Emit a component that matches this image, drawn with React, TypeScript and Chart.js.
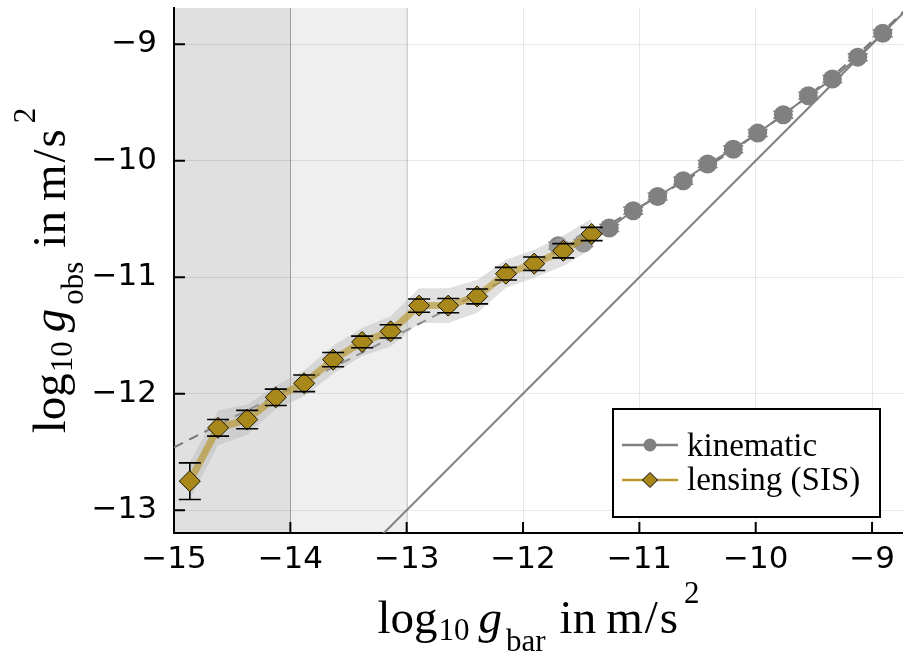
import React, { useEffect, useRef } from 'react';
import { Chart, registerables } from 'chart.js';

Chart.register(...registerables);

// ---------- data ----------
const LENS_X = [-14.864, -14.621, -14.371, -14.125, -13.881, -13.632, -13.383, -13.138, -12.893, -12.643, -12.394, -12.147, -11.904, -11.654, -11.41];
const LENS_Y = [-12.751, -12.293, -12.222, -12.031, -11.911, -11.708, -11.556, -11.465, -11.244, -11.244, -11.165, -10.97, -10.884, -10.773, -10.629];
const LENS_ERR = [0.157, 0.071, 0.079, 0.07, 0.071, 0.061, 0.05, 0.057, 0.057, 0.061, 0.064, 0.054, 0.058, 0.061, 0.057];
const LENS_BAND = [0.16, 0.15, 0.13, 0.1, 0.11, 0.12, 0.12, 0.13, 0.15, 0.15, 0.14, 0.12, 0.12, 0.13, 0.13];

const KIN_X = [-11.697, -11.482, -11.259, -11.053, -10.843, -10.623, -10.413, -10.193, -9.983, -9.763, -9.548, -9.341, -9.123, -8.908];
const KIN_Y = [-10.73, -10.707, -10.578, -10.43, -10.307, -10.172, -10.029, -9.901, -9.763, -9.606, -9.443, -9.298, -9.111, -8.906];
const KIN_ERR = [0.03, 0.03, 0.03, 0.03, 0.03, 0.03, 0.03, 0.03, 0.03, 0.03, 0.03, 0.03, 0.03, 0.03];

const RAR_X = [-15, -14.5, -14, -13.5, -13, -12.5, -12, -11.5, -11, -10.5, -10, -9.5, -9, -8.7];
const RAR_Y = [-12.46, -12.209, -11.958, -11.707, -11.454, -11.199, -10.941, -10.676, -10.399, -10.104, -9.777, -9.405, -8.975, -8.693];

const ONE_X = [-13.4, -8.6];
const ONE_Y = [-13.4, -8.6];

const X_TICKS = [-15, -14, -13, -12, -11, -10, -9];
const Y_TICKS = [-13, -12, -11, -10, -9];
const X_MIN = -15;
const X_MAX = -8.734;
const Y_MIN = -13.196;
const Y_MAX = -8.689;

const SPAN_A = [-15, -14];
const SPAN_B = [-14, -13];

const LEGEND_LABELS = ['kinematic', 'lensing (SIS)'];

// ---------- styles ----------
const GRAY = '#808080';
const GOLD = 'rgb(168,136,26)';
const GOLD_LINE = 'rgba(180,145,30,0.6)';
const SERIF = "'Liberation Serif', 'DejaVu Serif', serif";
const SANS = "'DejaVu Sans', sans-serif";

const fmt = (v: number) => (v < 0 ? '\u2212' : '') + String(Math.abs(v));
const pts = (xs: number[], ys: number[]) => xs.map((x, i) => ({ x, y: ys[i] }));

type Seg = { t: string; f: string; dy: number; gap: number };

function drawSegs(ctx: CanvasRenderingContext2D, segs: Seg[], cx: number, baseY: number) {
  let total = 0;
  const widths = segs.map((s) => {
    ctx.font = s.f;
    const w = ctx.measureText(s.t).width;
    total += s.gap + w;
    return w;
  });
  let x = cx - total / 2;
  ctx.textBaseline = 'alphabetic';
  ctx.textAlign = 'left';
  segs.forEach((s, i) => {
    x += s.gap;
    ctx.font = s.f;
    ctx.fillText(s.t, x, baseY + s.dy);
    x += widths[i];
  });
}

function titleSegs(sub: string): Seg[] {
  const big = `47px ${SERIF}`;
  const small = `31px ${SERIF}`;
  return [
    { t: 'log', f: big, dy: 0, gap: 0 },
    { t: '10', f: small, dy: 7, gap: 1 },
    { t: 'g', f: `italic ${big}`, dy: 0, gap: 9 },
    { t: sub, f: small, dy: 18, gap: 4 },
    { t: 'in', f: big, dy: 0, gap: 14 },
    { t: 'm', f: big, dy: 0, gap: 10 },
    { t: '/', f: big, dy: 0, gap: 2 },
    { t: 's', f: big, dy: 0, gap: 2 },
    { t: '2', f: small, dy: -30, gap: 6 },
  ];
}

const bgPlugin = {
  id: 'bgSpans',
  beforeDraw(chart: any) {
    const { ctx, chartArea } = chart;
    const x = chart.scales.x;
    ctx.save();
    ctx.fillStyle = '#ffffff';
    ctx.fillRect(0, 0, chart.width, chart.height);
    const a0 = x.getPixelForValue(SPAN_A[0]);
    const a1 = x.getPixelForValue(SPAN_A[1]);
    const b1 = x.getPixelForValue(SPAN_B[1]);
    ctx.fillStyle = '#e0e0e0';
    ctx.fillRect(a0, chartArea.top, a1 - a0, chartArea.bottom - chartArea.top);
    ctx.fillStyle = '#efefef';
    ctx.fillRect(a1, chartArea.top, b1 - a1, chartArea.bottom - chartArea.top);
    ctx.lineWidth = 1;
    ctx.strokeStyle = '#ababab';
    ctx.beginPath();
    ctx.moveTo(Math.round(a1) + 0.5, chartArea.top);
    ctx.lineTo(Math.round(a1) + 0.5, chartArea.bottom);
    ctx.stroke();
    ctx.strokeStyle = '#d2d2d2';
    ctx.beginPath();
    ctx.moveTo(Math.round(b1) + 0.5, chartArea.top);
    ctx.lineTo(Math.round(b1) + 0.5, chartArea.bottom);
    ctx.stroke();
    ctx.restore();
  },
};

function drawErr(chart: any, xs: number[], ys: number[], es: number[], color: string, half: number, lw: number, stems: boolean, caps: boolean) {
  const { ctx } = chart;
  const x = chart.scales.x;
  const y = chart.scales.y;
  ctx.save();
  ctx.strokeStyle = color;
  ctx.lineWidth = lw;
  xs.forEach((xv, i) => {
    const px = x.getPixelForValue(xv);
    const pt = y.getPixelForValue(ys[i] + es[i]);
    const pb = y.getPixelForValue(ys[i] - es[i]);
    ctx.beginPath();
    if (stems) {
      ctx.moveTo(px, pt);
      ctx.lineTo(px, pb);
    }
    if (caps) {
      ctx.moveTo(px - half, pt);
      ctx.lineTo(px + half, pt);
      ctx.moveTo(px - half, pb);
      ctx.lineTo(px + half, pb);
    }
    ctx.stroke();
  });
  ctx.restore();
}

const errPlugin = {
  id: 'errBars',
  beforeDatasetDraw(chart: any, args: any) {
    const ds = chart.data.datasets[args.index];
    if (ds.errKey === 'kin') drawErr(chart, KIN_X, KIN_Y, KIN_ERR, GRAY, 10, 1.5, true, true);
    if (ds.errKey === 'lens') drawErr(chart, LENS_X, LENS_Y, LENS_ERR, '#000', 11, 1.6, true, false);
  },
  afterDatasetDraw(chart: any, args: any) {
    const ds = chart.data.datasets[args.index];
    if (ds.errKey === 'lens') drawErr(chart, LENS_X, LENS_Y, LENS_ERR, '#000', 11, 1.6, false, true);
  },
};

const decoPlugin = {
  id: 'deco',
  afterDraw(chart: any) {
    const { ctx, chartArea } = chart;
    const x = chart.scales.x;
    const y = chart.scales.y;
    ctx.save();
    // inward ticks
    ctx.strokeStyle = '#000';
    ctx.lineWidth = 2;
    ctx.beginPath();
    X_TICKS.forEach((v) => {
      const px = x.getPixelForValue(v);
      ctx.moveTo(px, chartArea.bottom);
      ctx.lineTo(px, chartArea.bottom - 11);
    });
    Y_TICKS.forEach((v) => {
      const py = y.getPixelForValue(v);
      ctx.moveTo(chartArea.left, py);
      ctx.lineTo(chartArea.left + 11, py);
    });
    ctx.stroke();

    // legend
    const lx = 613, ly = 409, lw = 267, lh = 108;
    ctx.fillStyle = '#fff';
    ctx.fillRect(lx, ly, lw, lh);
    ctx.strokeStyle = '#000';
    ctx.lineWidth = 2;
    ctx.strokeRect(lx, ly, lw, lh);
    const rows = [445, 480];
    ctx.lineWidth = 2.5;
    ctx.strokeStyle = GRAY;
    ctx.beginPath();
    ctx.moveTo(622, rows[0]);
    ctx.lineTo(678, rows[0]);
    ctx.stroke();
    ctx.fillStyle = GRAY;
    ctx.beginPath();
    ctx.arc(650, rows[0], 6.5, 0, Math.PI * 2);
    ctx.fill();
    ctx.strokeStyle = 'rgb(186,152,48)';
    ctx.beginPath();
    ctx.moveTo(622, rows[1]);
    ctx.lineTo(678, rows[1]);
    ctx.stroke();
    ctx.fillStyle = GOLD;
    ctx.strokeStyle = '#000';
    ctx.lineWidth = 1;
    ctx.beginPath();
    ctx.moveTo(650, rows[1] - 7.5);
    ctx.lineTo(657.5, rows[1]);
    ctx.lineTo(650, rows[1] + 7.5);
    ctx.lineTo(642.5, rows[1]);
    ctx.closePath();
    ctx.fill();
    ctx.stroke();
    ctx.fillStyle = '#000';
    ctx.font = `33px ${SERIF}`;
    ctx.textAlign = 'left';
    ctx.textBaseline = 'alphabetic';
    ctx.fillText(LEGEND_LABELS[0], 687, 456);
    ctx.fillText(LEGEND_LABELS[1], 687, 490);

    // axis titles
    ctx.fillStyle = '#000';
    const cx = (chartArea.left + chartArea.right) / 2;
    drawSegs(ctx, titleSegs('bar'), cx, 633);
    const cy = (chartArea.top + chartArea.bottom) / 2;
    ctx.save();
    ctx.translate(65, cy);
    ctx.rotate(-Math.PI / 2);
    drawSegs(ctx, titleSegs('obs'), 0, 0);
    ctx.restore();
    ctx.restore();
  },
};

export default function App() {
  const ref = useRef<HTMLCanvasElement | null>(null);
  useEffect(() => {
    document.body.style.margin = '0';
    const canvas = ref.current;
    if (!canvas) return;
    const chart = new Chart(canvas, {
      type: 'scatter',
      data: {
        datasets: [
          {
            label: 'one-to-one',
            data: pts(ONE_X, ONE_Y),
            showLine: true,
            borderColor: GRAY,
            borderWidth: 2,
            pointRadius: 0,
            order: 9,
          },
          {
            label: 'RAR',
            data: pts(RAR_X, RAR_Y),
            showLine: true,
            borderColor: '#777777',
            borderWidth: 2,
            borderDash: [10, 7],
            pointRadius: 0,
            cubicInterpolationMode: 'monotone',
            order: 8,
          },
          {
            label: 'kinematic',
            errKey: 'kin',
            data: pts(KIN_X, KIN_Y),
            showLine: true,
            borderColor: GRAY,
            borderWidth: 2,
            pointRadius: 9.5,
            pointBackgroundColor: GRAY,
            pointBorderColor: GRAY,
            pointBorderWidth: 0,
            order: 7,
          },
          {
            label: 'band upper',
            data: pts(LENS_X, LENS_Y.map((v, i) => v + LENS_BAND[i])),
            showLine: true,
            borderWidth: 0,
            borderColor: 'rgba(0,0,0,0)',
            backgroundColor: 'rgba(182,182,182,0.42)',
            fill: '+1',
            pointRadius: 0,
            order: 6,
          },
          {
            label: 'band lower',
            data: pts(LENS_X, LENS_Y.map((v, i) => v - LENS_BAND[i])),
            showLine: true,
            borderWidth: 0,
            borderColor: 'rgba(0,0,0,0)',
            pointRadius: 0,
            order: 6,
          },
          {
            label: 'lensing (SIS)',
            errKey: 'lens',
            data: pts(LENS_X, LENS_Y),
            showLine: true,
            borderColor: GOLD_LINE,
            borderWidth: 7,
            pointStyle: 'rectRot',
            pointRadius: 10.5,
            pointBackgroundColor: GOLD,
            pointBorderColor: '#1a1400',
            pointBorderWidth: 1,
            order: 4,
          },
        ] as any,
      },
      options: {
        animation: false,
        responsive: false,
        events: [],
        layout: { autoPadding: false, padding: { top: 8, right: 0, left: 0, bottom: 0 } },
        plugins: {
          legend: { display: false },
          tooltip: { enabled: false },
          title: { display: false },
        },
        scales: {
          x: {
            type: 'linear',
            min: X_MIN,
            max: X_MAX,
            afterBuildTicks: (s: any) => {
              s.ticks = X_TICKS.map((v) => ({ value: v }));
            },
            afterFit: (s: any) => {
              s.height = 120;
              s.paddingLeft = 0;
              s.paddingRight = 0;
              s.paddingTop = 0;
              s.paddingBottom = 0;
            },
            grid: { color: 'rgba(0,0,0,0.09)', lineWidth: 1, drawTicks: false },
            border: { display: true, color: '#000', width: 2 },
            ticks: {
              autoSkip: false,
              maxRotation: 0,
              padding: 8,
              color: '#000',
              font: { family: SANS, size: 31 },
              callback: (v: any) => fmt(Number(v)),
            },
          },
          y: {
            type: 'linear',
            min: Y_MIN,
            max: Y_MAX,
            afterBuildTicks: (s: any) => {
              s.ticks = Y_TICKS.map((v) => ({ value: v }));
            },
            afterFit: (s: any) => {
              s.width = 174;
              s.paddingLeft = 0;
              s.paddingRight = 0;
              s.paddingTop = 0;
              s.paddingBottom = 0;
            },
            grid: { color: 'rgba(0,0,0,0.09)', lineWidth: 1, drawTicks: false },
            border: { display: true, color: '#000', width: 2 },
            ticks: {
              autoSkip: false,
              padding: 17,
              color: '#000',
              font: { family: SANS, size: 31 },
              callback: (v: any) => fmt(Number(v)),
            },
          },
        },
      } as any,
      plugins: [bgPlugin, errPlugin, decoPlugin],
    });
    return () => chart.destroy();
  }, []);
  return (
    <div style={{ width: 903, height: 653, position: 'relative' }}>
      <canvas ref={ref} width={903} height={653} style={{ width: 903, height: 653, display: 'block' }} />
    </div>
  );
}
